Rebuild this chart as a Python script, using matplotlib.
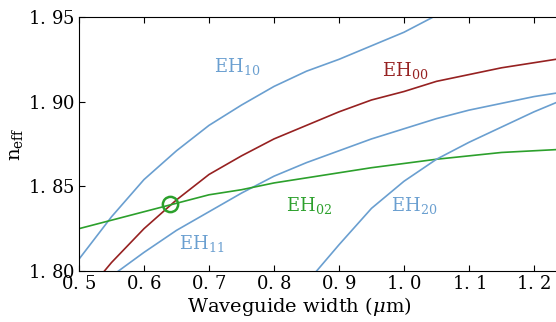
import numpy as np
import matplotlib
matplotlib.use("Agg")
import matplotlib.pyplot as plt
from matplotlib.ticker import FuncFormatter

#datos (ancho de guia en um, indice efectivo)
w = [0.5, 0.55, 0.6, 0.65, 0.7, 0.75, 0.8, 0.85, 0.9, 0.95, 1.0, 1.05, 1.1, 1.15, 1.2, 1.25]

eh10 = [1.807, 1.832, 1.854, 1.871, 1.886, 1.898, 1.909, 1.918, 1.925, 1.933, 1.941, 1.951]
eh00 = [1.782, 1.805, 1.825, 1.842, 1.857, 1.868, 1.878, 1.886, 1.894, 1.901, 1.906, 1.912, 1.916, 1.920, 1.923, 1.926]
eh11 = [1.778, 1.797, 1.811, 1.824, 1.835, 1.846, 1.856, 1.864, 1.871, 1.878, 1.884, 1.890, 1.895, 1.899, 1.903, 1.906]
eh02 = [1.825, 1.830, 1.835, 1.840, 1.845, 1.848, 1.852, 1.855, 1.858, 1.861, 1.8635, 1.866, 1.868, 1.870, 1.871, 1.872]
w20 = [0.85, 0.9, 0.95, 1.0, 1.05, 1.1, 1.15, 1.2, 1.25]
eh20 = [1.793, 1.8155, 1.837, 1.853, 1.866, 1.876, 1.885, 1.894, 1.902]

#punto de cruce marcado
cross_w, cross_n = 0.64, 1.8395

blue = '#6a9fd0'
red = '#962121'
green = '#2ca02c'

plt.rcParams['font.family'] = 'DejaVu Serif'
plt.rcParams['mathtext.fontset'] = 'dejavuserif'

fig = plt.figure(figsize=(5.56, 3.22), dpi=100)
ax = fig.add_axes([79/556, 51/322, 490/556, 254/322])

ax.plot(w[:len(eh10)], eh10, color=blue, lw=1.2)
ax.plot(w, eh00, color=red, lw=1.2)
ax.plot(w, eh11, color=blue, lw=1.2)
ax.plot(w, eh02, color=green, lw=1.2)
ax.plot(w20, eh20, color=blue, lw=1.2)
ax.plot([cross_w], [cross_n], 'o', mfc='none', mec=green, mew=1.8, ms=11)

ax.text(0.743, 1.921, r'EH$_{10}$', color=blue, fontsize=13, ha='center', va='center')
ax.text(1.0015, 1.9187, r'EH$_{00}$', color=red, fontsize=13, ha='center', va='center')
ax.text(0.689, 1.816, r'EH$_{11}$', color=blue, fontsize=13, ha='center', va='center')
ax.text(0.854, 1.8384, r'EH$_{02}$', color=green, fontsize=13, ha='center', va='center')
ax.text(1.0154, 1.8384, r'EH$_{20}$', color=blue, fontsize=13, ha='center', va='center')

def fmt(v, nd):
    s = '%.*f' % (nd, v)
    a, b = s.split('.')
    return r'$%s.\,%s$' % (a, b)

ax.set_xlim(0.5, 0.5 + 490/650)
ax.set_ylim(1.80, 1.95)
ax.set_xticks([0.5, 0.6, 0.7, 0.8, 0.9, 1.0, 1.1, 1.2])
ax.set_yticks([1.80, 1.85, 1.90, 1.95])
ax.xaxis.set_major_formatter(FuncFormatter(lambda v, p: fmt(v, 1)))
ax.yaxis.set_major_formatter(FuncFormatter(lambda v, p: fmt(v, 2)))
ax.tick_params(direction='in', length=4.5, labelsize=13, top=True, right=True, pad=3)
ax.spines['right'].set_visible(False)

ax.set_xlabel(r'Waveguide width ($\mu$m)', fontsize=14)
ax.xaxis.set_label_coords(0.45, -0.095)
ax.set_ylabel(r'$\mathrm{n_{eff}}$', fontsize=14)
ax.yaxis.set_label_coords(-0.11, 0.5)

fig.savefig('out.png', dpi=100)
